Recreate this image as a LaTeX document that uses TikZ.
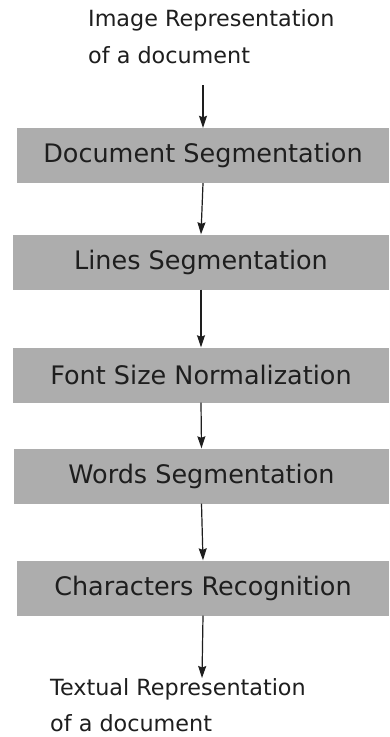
\documentclass[tikz,border=0pt]{standalone}
\usepackage{fontspec}
\setmainfont{DejaVu Sans}
\usetikzlibrary{arrows.meta}
\definecolor{boxgray}{HTML}{ADADAD}
\definecolor{ink}{HTML}{1E1E1E}
\begin{document}
\begin{tikzpicture}[x=1pt,y=-1pt,
  stage/.style={fill=boxgray, draw=none, inner sep=0pt, minimum height=55pt,
    text=ink, font=\fontsize{25.5}{30}\selectfont},
  endtext/.style={align=left, inner sep=0pt, text=ink,
    font=\fontsize{22.3}{36.5}\selectfont},
  flow/.style={draw=ink, line width=1.2pt,
    -{Stealth[length=12pt,width=8pt,inset=1.5pt]}}]
  \useasboundingbox[fill=white] (0,0) rectangle (389,737);

  % input and output descriptions (anchored on the last line's baseline)
  \node[endtext, anchor=base west] (src) at (88,63.3)
    {Image Representation\\of a document};
  \node[endtext, anchor=base west] (dst) at (50,731.5)
    {Textual Representation\\of a document};

  % processing stages
  \node[stage, minimum width=372pt] (b1) at (203,155.5) {Document Segmentation};
  \node[stage, minimum width=376pt] (b2) at (201,262) {Lines Segmentation};
  \node[stage, minimum width=376pt] (b3) at (201,375) {Font Size Normalization};
  \node[stage, minimum width=375pt] (b4) at (201.5,476) {Words Segmentation};
  \node[stage, minimum width=372pt] (b5) at (203,588) {Characters Recognition};

  \coordinate (srcEnd) at (203,85);
  \coordinate (dstEnd) at (202,678);

  % connectors
  \draw[flow] (srcEnd) -- (b1.north);
  \draw[flow] (b1.south) -- (b2.north);
  \draw[flow] (b2.south) -- (b3.north);
  \draw[flow] (b3.south) -- (b4.north);
  \draw[flow] (b4.south) -- (b5.north);
  \draw[flow] (b5.south) -- (dstEnd);
\end{tikzpicture}
\end{document}
